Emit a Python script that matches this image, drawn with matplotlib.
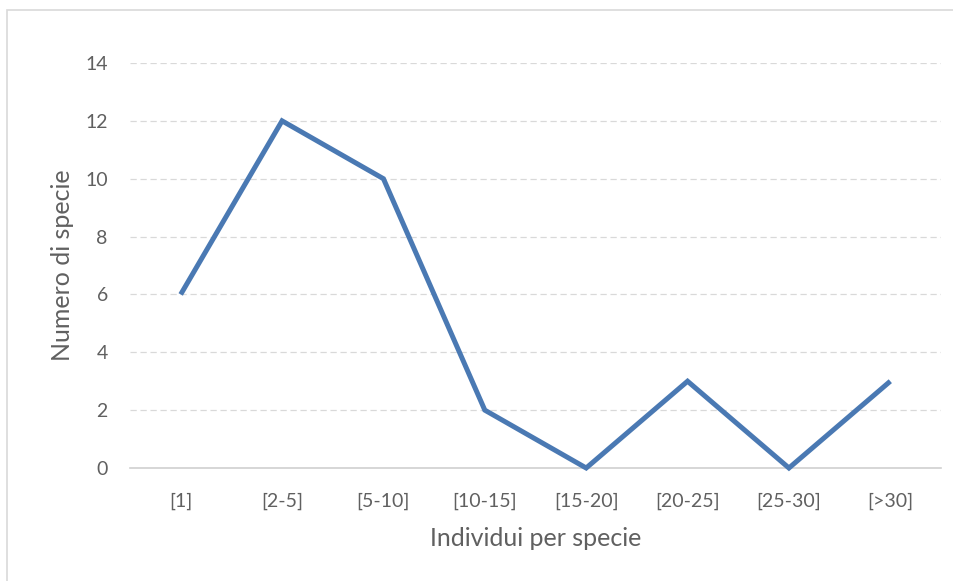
import matplotlib.pyplot as plt
from matplotlib.patches import Rectangle

categories = ["[1]", "[2-5]", "[5-10]", "[10-15]", "[15-20]", "[20-25]", "[25-30]", "[>30]"]
species_count = [6, 12, 10, 2, 0, 3, 0, 3]
y_ticks = [0, 2, 4, 6, 8, 10, 12, 14]

text_color = "#606060"
plt.rcParams["font.family"] = ["Lato", "DejaVu Sans"]

fig = plt.figure(figsize=(9.54, 5.81), dpi=100)
fig.patches.append(Rectangle((7 / 954, -0.1), 1.2, 1 - 10 / 581 + 0.1, transform=fig.transFigure,
                             fill=False, edgecolor="#d9d9d9", linewidth=1.2))

ax = fig.add_axes([130 / 954, 1 - 468 / 581, 811 / 954, 405 / 581])
ax.plot(range(len(categories)), species_count, color="#4a79b3", linewidth=3.6,
        solid_joinstyle="miter", solid_capstyle="butt", clip_on=False, zorder=3)

ax.set_xlim(-0.5, len(categories) - 0.5)
ax.set_ylim(0, 14)
ax.set_xticks(range(len(categories)))
ax.set_xticklabels(categories)
ax.set_yticks(y_ticks)

for y in y_ticks[1:]:
    ax.axhline(y, color="#d9d9d9", linewidth=0.9, linestyle=(0, (5, 3)), zorder=1)

for side in ["top", "right", "left"]:
    ax.spines[side].set_visible(False)
ax.spines["bottom"].set_color("#d0d0d0")
ax.spines["bottom"].set_linewidth(1.2)

ax.tick_params(axis="both", length=0, labelsize=14, labelcolor=text_color)
ax.tick_params(axis="x", pad=18)
ax.tick_params(axis="y", pad=16)

ax.set_xlabel("Individui per specie", fontsize=18, color=text_color, labelpad=12)
ax.set_ylabel("Numero di specie", fontsize=18, color=text_color, labelpad=8)

fig.savefig("out.png", dpi=100)
